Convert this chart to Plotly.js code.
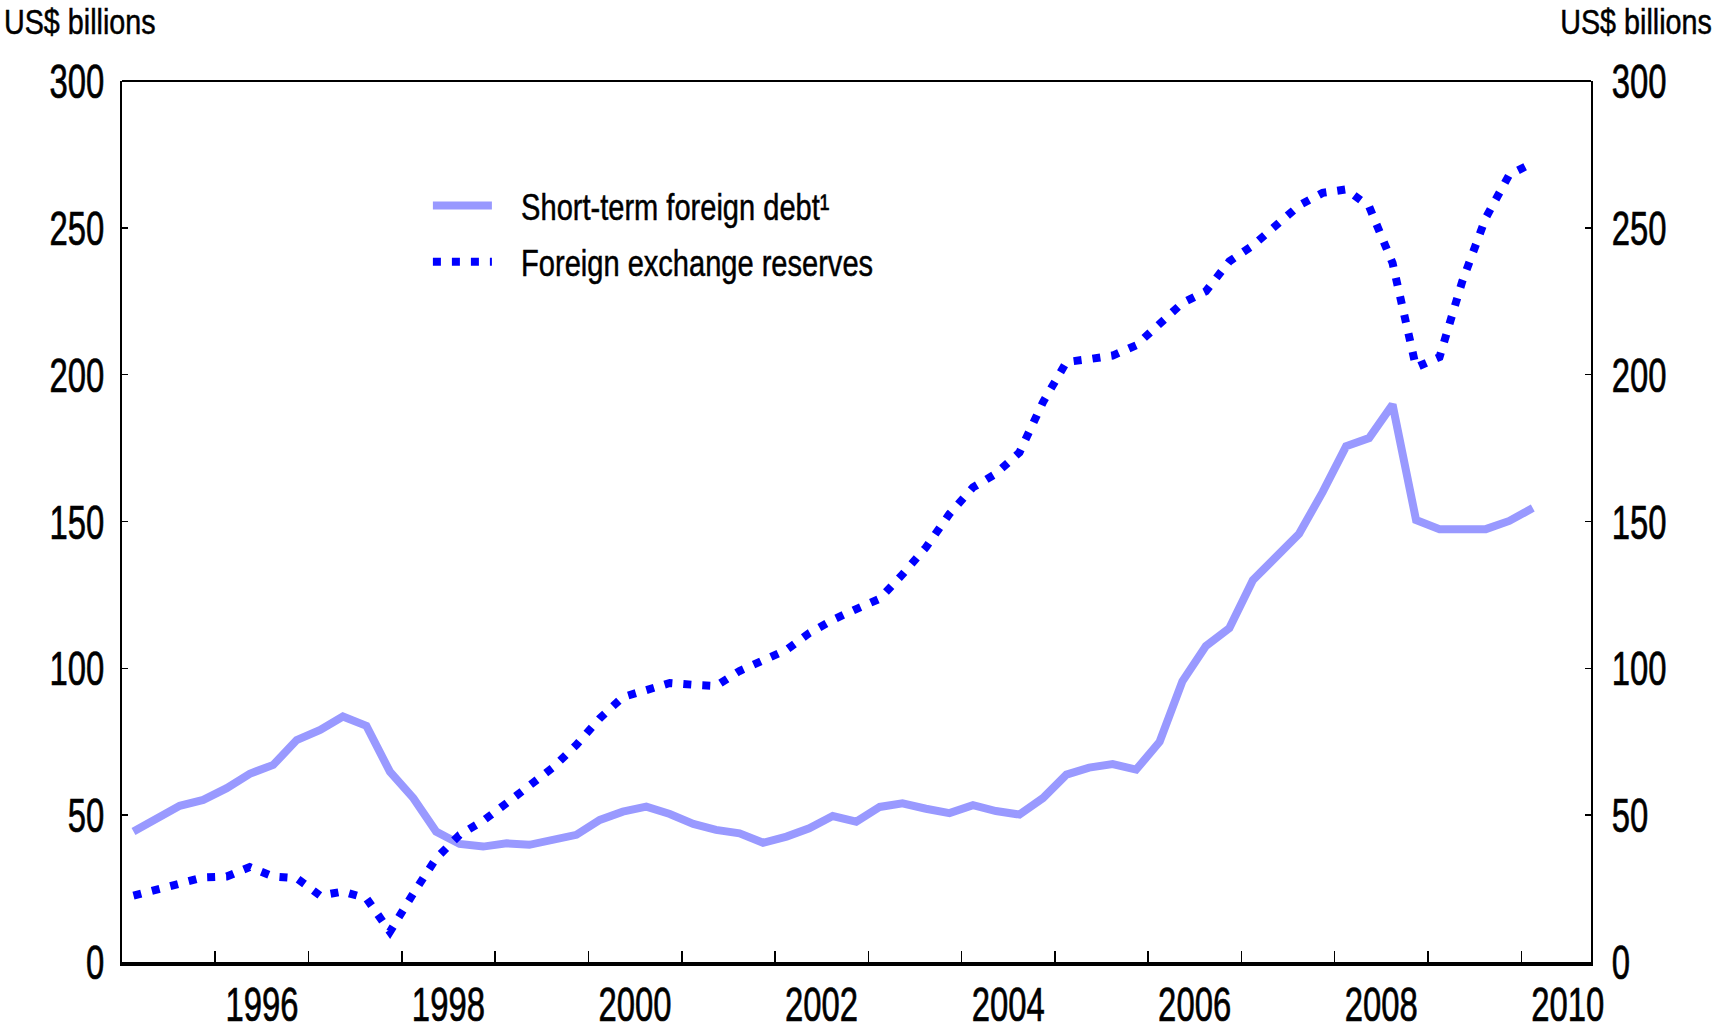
<!DOCTYPE html>
<html><head><meta charset="utf-8">
<script src="https://cdn.plot.ly/plotly-3.0.1.min.js"></script>
<style>html,body{margin:0;padding:0;background:#fff;} #chart{width:1712px;height:1025px;}</style>
</head><body><div id="chart"></div>
<script>
// Quarterly observations, 1995 Q1 to 2010 Q1
const startYear = 1995;
const quarterCount = 61;
const quarterLabels = [];
const quarterDates = [];
for (let i = 0; i < quarterCount; i++) {
  const y = startYear + Math.floor(i / 4), q = i % 4;
  quarterLabels.push(y + ' Q' + (q + 1));
  quarterDates.push(y + '-' + String(q * 3 + 2).padStart(2, '0') + '-15');
}

// US$ billions
const shortTermDebt = [
  44.4, 48.7, 53.2, 55.2, 59.2, 64.1, 67.1, 75.6, 79.0, 83.6,
  80.4, 64.8, 55.8, 44.4, 40.2, 39.3, 40.4, 39.9, 41.6, 43.3,
  48.4, 51.2, 52.9, 50.4, 47.0, 45.0, 43.8, 40.6, 42.7, 45.5,
  49.7, 47.8, 52.8, 54.0, 52.2, 50.7, 53.4, 51.4, 50.2, 55.8,
  63.8, 66.2, 67.4, 65.5, 75.0, 95.6, 107.6, 113.7, 130.0, 137.5,
  145.8, 160.0, 175.6, 178.4, 189.8, 150.5, 147.4, 147.4, 147.4, 150.2,
  154.6
];
const fxReserves = [
  22.6, 24.8, 27.1, 28.8, 29.1, 32.3, 29.1, 28.5, 22.6, 24.0,
  21.7, 10.3, 23.4, 35.3, 43.3, 48.1, 54.1, 60.0, 66.2, 73.9,
  83.0, 90.2, 92.3, 95.0, 94.4, 94.0, 99.1, 102.9, 106.3, 112.0,
  116.5, 120.2, 123.7, 132.0, 141.2, 152.6, 161.6, 166.3, 173.5, 190.6,
  204.3, 205.3, 206.5, 210.0, 217.4, 224.4, 228.4, 238.6, 244.0, 250.4,
  257.6, 261.9, 263.1, 257.3, 238.0, 202.5, 206.0, 231.8, 253.4, 268.1,
  272.1
];

const seriesNames = ['Short-term foreign debt\u00b9', 'Foreign exchange reserves'];
const yTickVals = [0, 50, 100, 150, 200, 250, 300];
const yTickText = ['0', '50', '100', '150', '200', '250', '300'];
const tickYears = [1996, 1997, 1998, 1999, 2000, 2001, 2002, 2003, 2004, 2005, 2006, 2007, 2008, 2009, 2010];
const labelYears = [1996, 1998, 2000, 2002, 2004, 2006, 2008, 2010];
const unitLabel = 'US$ billions';

const FONT = "'Liberation Sans', Arial, sans-serif";
const TICK_SIZE = 49, LEGEND_SIZE = 37, UNIT_SIZE = 35;
const TICK_SQUEEZE = 0.67, LEGEND_SQUEEZE = 0.785, UNIT_SQUEEZE = 0.82;
const xRange = ['1995-01-01', '2010-10-01'];
const pad = '\u00a0\u00a0\u00a0';

const traces = [
  {x: quarterDates, y: shortTermDebt, text: quarterLabels, name: pad + seriesNames[0], type: 'scatter', mode: 'lines',
   line: {color: '#9999ff', width: 8}, xaxis: 'x', yaxis: 'y', legendgroup: 'a'},
  {x: quarterDates, y: fxReserves, text: quarterLabels, name: pad + seriesNames[1], type: 'scatter', mode: 'lines',
   line: {color: '#0000ff', width: 8, dash: '8px,11px'}, xaxis: 'x2', yaxis: 'y2', legendgroup: 'b'}
];

const yCommon = {range: [0, 300], tickvals: yTickVals, ticktext: yTickText, ticks: 'inside', ticklen: 6, tickwidth: 1.5,
  tickcolor: '#000', showline: true, linewidth: 2, linecolor: '#000', showgrid: false, zeroline: false,
  tickfont: {size: TICK_SIZE, family: FONT, color: '#000'}, fixedrange: true};

const layout = {
  width: 1712, height: 1025,
  margin: {l: 122, r: 120.5, t: 81, b: 63, pad: 0},
  paper_bgcolor: '#fff', plot_bgcolor: '#fff',
  font: {family: FONT, color: '#000', size: LEGEND_SIZE},
  showlegend: true,
  legend: {x: (428 - 122) / 1469.5, y: (962 - 175) / 881, xanchor: 'left', yanchor: 'top', bgcolor: 'rgba(0,0,0,0)',
    borderwidth: 0, font: {size: LEGEND_SIZE, family: FONT, color: '#000'}, itemwidth: 59, traceorder: 'grouped', tracegroupgap: 5},
  xaxis: {type: 'date', range: xRange, tickvals: tickYears.map(y => y + '-01-01'), ticktext: tickYears.map(() => ''),
    ticks: 'inside', ticklen: 11, tickwidth: 1.5, tickcolor: '#000', showline: true, linewidth: 4, linecolor: '#000',
    showgrid: false, zeroline: false, fixedrange: true},
  xaxis2: {type: 'date', overlaying: 'x', range: xRange, tickvals: labelYears.map(y => y + '-07-02'),
    ticktext: labelYears.map(String), ticks: '', showline: false, showgrid: false, zeroline: false, side: 'bottom',
    tickfont: {size: TICK_SIZE, family: FONT, color: '#000'}, ticklabelstandoff: 9, fixedrange: true},
  yaxis: Object.assign({}, yCommon, {side: 'left', ticklabelstandoff: 6}),
  yaxis2: Object.assign({}, yCommon, {side: 'right', overlaying: 'y', ticklabelstandoff: 9}),
  shapes: [{type: 'line', xref: 'paper', yref: 'paper', x0: 0, x1: 1, y0: 1, y1: 1, line: {color: '#000', width: 2}}],
  annotations: [
    {text: unitLabel, xref: 'paper', yref: 'paper', x: (2 - 122) / 1469.5, y: (962 - 22) / 881, xanchor: 'left', yanchor: 'middle',
     align: 'left', showarrow: false, font: {size: UNIT_SIZE, family: FONT, color: '#000'}},
    {text: unitLabel, xref: 'paper', yref: 'paper', x: (1715 - 122) / 1469.5, y: (962 - 22) / 881, xanchor: 'right', yanchor: 'middle',
     align: 'right', showarrow: false, font: {size: UNIT_SIZE, family: FONT, color: '#000'}}
  ]
};

function squeeze(selector, factor, weight) {
  document.querySelectorAll(selector).forEach(el => {
    const w = el.getComputedTextLength();
    if (w > 0) {
      el.setAttribute('textLength', (w * factor).toFixed(2));
      el.setAttribute('lengthAdjust', 'spacingAndGlyphs');
      el.style.stroke = '#000';
      el.style.strokeWidth = weight + 'px';
    }
  });
}

Plotly.newPlot('chart', traces, layout, {displayModeBar: false, staticPlot: true}).then(() => {
  squeeze('#chart g.xtick text, #chart g.x2tick text, #chart g.ytick text, #chart g.y2tick text', TICK_SQUEEZE, 0.7);
  squeeze('#chart text.legendtext', LEGEND_SQUEEZE, 0.5);
  squeeze('#chart text.annotation-text', UNIT_SQUEEZE, 0.5);
});
</script></body></html>
